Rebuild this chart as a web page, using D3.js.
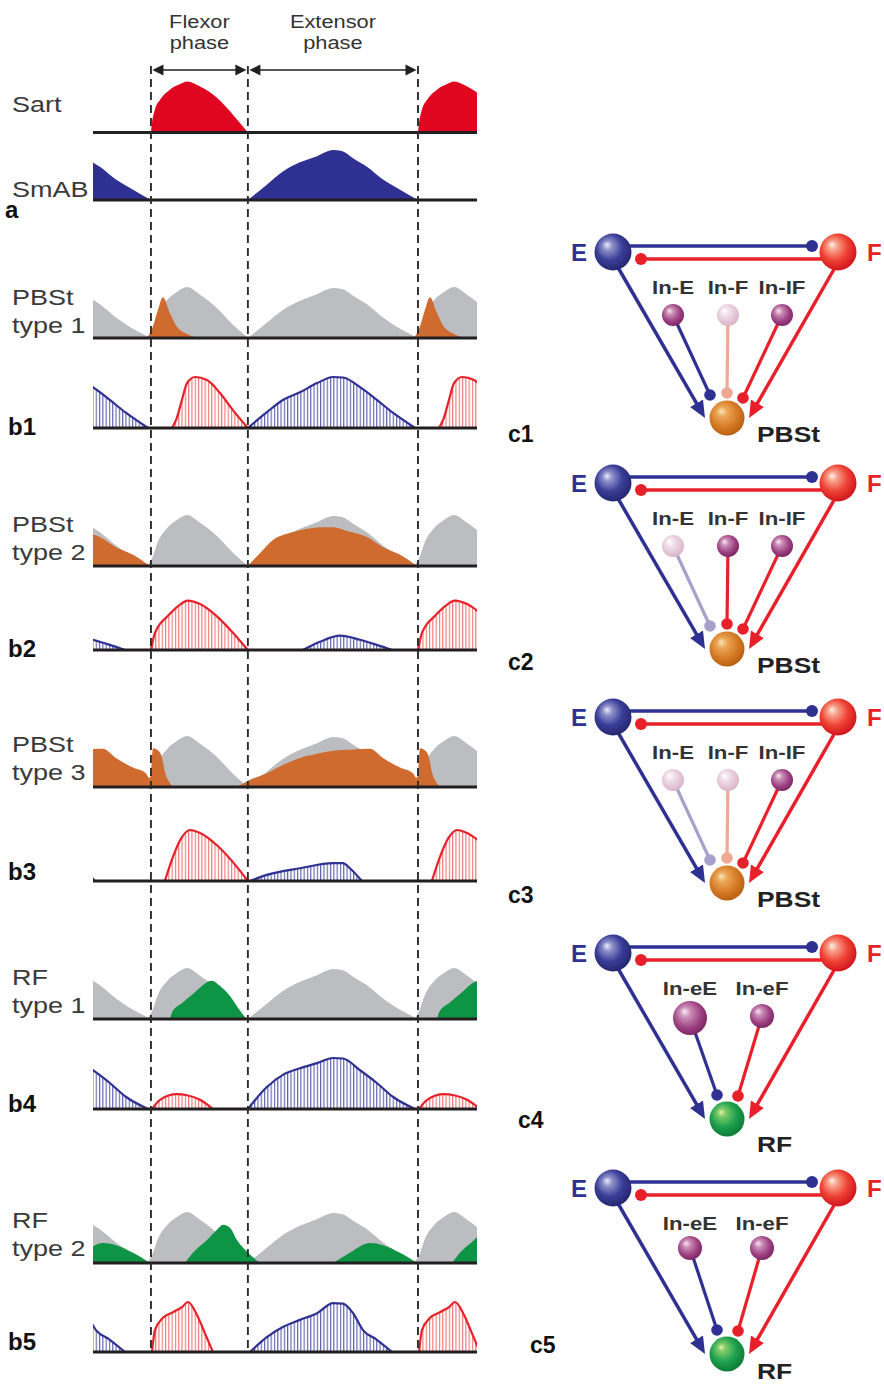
<!DOCTYPE html>
<html>
<head>
<meta charset="utf-8">
<script src="https://cdn.jsdelivr.net/npm/d3@7"></script>
<style>
  body { margin: 0; background: #fff; }
  svg { display: block; font-family: Arial, "Liberation Sans", Helvetica, sans-serif; }
</style>
</head>
<body>
<svg id="chart" width="884" height="1385"></svg>
<script>
// time is in % of the step cycle: 0 = flexor onset, 36.3 = extensor onset, 100 = next flexor onset
var phaseBounds = [0, 36.3, 100];
var phaseNames = [["Flexor", "phase"], ["Extensor", "phase"]];
var timeRange = [-21.7, 122.1];

// bursts over one cycle: [time %, relative amplitude]
var sartBurst = [[0,0],[0.3,0.15],[1.5,0.45],[3.4,0.64],[7.1,0.84],[10.9,0.95],[13.5,1.0],[18.4,0.9],[24.7,0.68],[30.7,0.35],[36.3,0]];
var smabBurst = [[36.3,0],[43.4,0.3],[49.4,0.56],[55.8,0.74],[62.2,0.86],[68.2,0.98],[71.5,0.96],[75.7,0.82],[80.9,0.65],[86.9,0.4],[93.3,0.2],[100,0]];

// grey envelope (flexor + extensor activity)
var envFlex = [[-1.5,0],[0.8,0.2],[2.2,0.42],[6,0.74],[9.7,0.9],[13.5,1.0],[18.4,0.85],[24.7,0.59],[30.7,0.26],[36.3,0]];
var envExt = [[36.3,0],[43.4,0.3],[49.4,0.55],[55.8,0.73],[62.2,0.86],[68.2,0.98],[71.5,0.96],[75.7,0.83],[80.9,0.66],[86.9,0.4],[93.3,0.18],[100,0]];

// PBSt type 1 / b1
var pbst1Burst = [[-1.5,0],[0.7,0.22],[2.6,0.55],[4.5,0.8],[7.1,0.49],[9.7,0.22],[13.5,0.08],[17.2,0]];
var b1Ext = [[36.3,0],[43.4,0.31],[49.4,0.55],[55.8,0.7],[62.2,0.88],[68.2,1.0],[71.9,0.99],[78.3,0.8],[84.6,0.55],[90.6,0.3],[98.9,0]];
var b1Flex = [[7.9,0],[9.7,0.2],[11.6,0.55],[13.5,0.88],[16.5,1.0],[21,0.94],[25.8,0.69],[30.7,0.35],[36.3,0]];

// PBSt type 2 / b2
var pbst2Ext = [[36.3,0],[40.8,0.25],[45.7,0.51],[52.1,0.65],[58.4,0.73],[64.4,0.76],[68.2,0.76],[74.5,0.67],[80.9,0.57],[86.9,0.37],[93.3,0.22],[99.6,0]];
var b2Flex = [[0,0],[0.4,0.1],[1.1,0.27],[2.6,0.45],[6,0.65],[9.7,0.84],[13.9,0.97],[18.4,0.9],[24.7,0.66],[30.7,0.34],[36.3,0]];
var b2Ext = [[56.9,0],[63.3,0.16],[70.8,0.28],[78.3,0.2],[84.6,0.1],[90.3,0]];

// PBSt type 3 / b3
var pbst3Spike = [[0,0.22],[0.8,0.76],[2.6,0.72],[4.1,0.58],[5.2,0.3],[7.1,0.08],[8.2,0]];
var pbst3Ext = [[32.2,0],[37.1,0.14],[43.4,0.27],[49.4,0.43],[55.8,0.57],[62.2,0.65],[68.2,0.71],[74.5,0.73],[82,0.75],[86.9,0.57],[93.3,0.38],[98.1,0.27],[99.4,0.18],[100,0.22]];
var b3Flex = [[5.2,0],[8.2,0.47],[11.6,0.86],[14.6,1.0],[18.4,0.94],[24.7,0.7],[30.7,0.37],[36.3,0]];
var b3Ext = [[37.1,0],[43.4,0.12],[55.8,0.25],[68.2,0.35],[71.9,0.35],[74.5,0.25],[79,0]];

// RF type 1 / b4
var rf1Flex = [[7.1,0],[8.2,0.16],[11.6,0.31],[15.7,0.49],[22.8,0.75],[25.8,0.65],[29.6,0.45],[32.6,0.22],[35.6,0]];
var b4Ext = [[36.3,0],[43.4,0.43],[49.4,0.67],[55.8,0.8],[62.2,0.9],[68.2,1.0],[71.9,0.99],[78.3,0.76],[84.6,0.51],[90.6,0.24],[98.9,0]];
var b4Flex = [[0.4,0],[3.4,0.18],[9.7,0.29],[13.5,0.27],[18.4,0.18],[23.2,0]];

// RF type 2 / b5
var rf2Flex = [[12.7,0],[15.7,0.2],[21,0.45],[24.7,0.65],[27,0.75],[29.6,0.69],[32.2,0.45],[36,0.22],[40.8,0]];
var rf2Ext = [[68.2,0],[74.5,0.2],[82,0.39],[86.9,0.35],[93.3,0.2],[99.6,0]];
var b5Flex = [[0.4,0],[1.5,0.43],[4.5,0.67],[8.2,0.78],[11.6,0.88],[13.9,0.98],[17.2,0.73],[20.2,0.37],[23.2,0]];
var b5Ext = [[37.1,0],[43.4,0.29],[49.4,0.49],[55.8,0.63],[62.2,0.76],[68.2,0.96],[71.9,0.95],[75.7,0.76],[79.4,0.43],[84.6,0.24],[90.3,0]];

// circuit diagrams
var circuitIds = ["c1", "c2", "c3", "c4", "c5"];
var circuitTargets = ["PBSt", "PBSt", "PBSt", "RF", "RF"];
var interneuronLabels = [["In-E","In-F","In-IF"],["In-E","In-F","In-IF"],["In-E","In-F","In-IF"],["In-eE","In-eF"],["In-eE","In-eF"]];
var interneuronSide = [["E","F","F"],["E","F","F"],["E","F","F"],["E","F"],["E","F"]];
var interneuronActive = [[1,0,1],[0,1,1],[0,0,1],[1,1],[1,1]];

var svg = d3.select("#chart");
var defs = svg.append("defs");

var x = d3.scaleLinear().domain(timeRange).range([93, 477]);
var AMP = 51;
var NAVY = "#2e3192", RED = "#e8202a", GREY = "#bcbdc0", ORANGE = "#d06b30", GREEN = "#0e9445";

//Clip to trace area
defs.append("clipPath").attr("id", "plotClip")
  .append("rect")
  .attr("x", x(timeRange[0])).attr("y", 0)
  .attr("width", x(timeRange[1]) - x(timeRange[0])).attr("height", 1385);

//Vertical hatching patterns
function hatch(id, color) {
  var p = defs.append("pattern").attr("id", id)
    .attr("patternUnits", "userSpaceOnUse").attr("width", 3.3).attr("height", 20);
  p.append("line").attr("x1", 0.6).attr("x2", 0.6).attr("y1", 0).attr("y2", 20)
    .attr("stroke", color).attr("stroke-width", 1);
}
hatch("hatchRed", "#ee6464");
hatch("hatchBlue", "#4a4da4");

//Rows of traces
var rows = [
  { base: 132.5, layers: [{ data: sartBurst, fill: "#e0061f" }] },
  { base: 200, layers: [{ data: smabBurst, fill: NAVY }] },
  { base: 338, layers: [{ data: envFlex, fill: GREY }, { data: envExt, fill: GREY }, { data: pbst1Burst, fill: ORANGE }] },
  { base: 428, layers: [{ data: b1Ext, hatch: "hatchBlue", stroke: NAVY }, { data: b1Flex, hatch: "hatchRed", stroke: RED }] },
  { base: 566, layers: [{ data: envFlex, fill: GREY }, { data: envExt, fill: GREY }, { data: pbst2Ext, fill: ORANGE }] },
  { base: 650, layers: [{ data: b2Ext, hatch: "hatchBlue", stroke: NAVY }, { data: b2Flex, hatch: "hatchRed", stroke: RED }] },
  { base: 787, layers: [{ data: envFlex, fill: GREY }, { data: envExt, fill: GREY }, { data: pbst3Ext, fill: ORANGE }, { data: pbst3Spike, fill: ORANGE }] },
  { base: 881, layers: [{ data: b3Ext, hatch: "hatchBlue", stroke: NAVY }, { data: b3Flex, hatch: "hatchRed", stroke: RED }] },
  { base: 1019, layers: [{ data: envFlex, fill: GREY }, { data: envExt, fill: GREY }, { data: rf1Flex, fill: GREEN }] },
  { base: 1109, layers: [{ data: b4Ext, hatch: "hatchBlue", stroke: NAVY }, { data: b4Flex, hatch: "hatchRed", stroke: RED }] },
  { base: 1263, layers: [{ data: envFlex, fill: GREY }, { data: envExt, fill: GREY }, { data: rf2Flex, fill: GREEN }, { data: rf2Ext, fill: GREEN }] },
  { base: 1352, layers: [{ data: b5Ext, hatch: "hatchBlue", stroke: NAVY }, { data: b5Flex, hatch: "hatchRed", stroke: RED }] }
];

rows.forEach(function(row) {
  var y = d3.scaleLinear().domain([0, 1]).range([row.base, row.base - AMP]);
  var area = d3.area().curve(d3.curveMonotoneX)
    .x(function(d) { return x(d[0]); }).y0(y(0)).y1(function(d) { return y(d[1]); });
  var line = d3.line().curve(d3.curveMonotoneX)
    .x(function(d) { return x(d[0]); }).y(function(d) { return y(d[1]); });
  var g = svg.append("g").attr("clip-path", "url(#plotClip)");

  row.layers.forEach(function(layer) {
    //repeat each burst for previous / current / next cycle
    [-100, 0, 100].forEach(function(off) {
      var pts = layer.data.map(function(p) { return [p[0] + off, p[1]]; });
      if (pts[pts.length - 1][0] < timeRange[0] || pts[0][0] > timeRange[1]) return;
      g.append("path").attr("d", area(pts))
        .attr("fill", layer.hatch ? "url(#" + layer.hatch + ")" : layer.fill);
      if (layer.stroke) {
        g.append("path").attr("d", line(pts)).attr("fill", "none")
          .attr("stroke", layer.stroke).attr("stroke-width", 2.2).attr("stroke-linejoin", "round");
      }
    });
  });

  svg.append("line")
    .attr("x1", x(timeRange[0])).attr("x2", x(timeRange[1]))
    .attr("y1", row.base).attr("y2", row.base)
    .attr("stroke", "#231f20").attr("stroke-width", 3.2);
});

//Dashed phase boundaries
svg.selectAll(".phaseLine").data(phaseBounds).enter().append("line")
  .attr("class", "phaseLine")
  .attr("x1", function(d) { return x(d); }).attr("x2", function(d) { return x(d); })
  .attr("y1", 66).attr("y2", 1352)
  .attr("stroke", "#2b2b2b").attr("stroke-width", 1.9).attr("stroke-dasharray", "8,5");

//Phase arrows
function arrowHead(px, py, dir) {
  svg.append("path")
    .attr("d", "M" + px + "," + py + " l" + (-11 * dir) + ",-5.5 l0,11 Z")
    .attr("fill", "#231f20");
}
phaseNames.forEach(function(name, i) {
  var x0 = x(phaseBounds[i]) + 1.5, x1 = x(phaseBounds[i + 1]) - 1.5;
  svg.append("line").attr("x1", x0 + 6).attr("x2", x1 - 6).attr("y1", 70).attr("y2", 70)
    .attr("stroke", "#231f20").attr("stroke-width", 1.6);
  arrowHead(x0, 70, -1);
  arrowHead(x1, 70, 1);
  var cx = (x(phaseBounds[i]) + x(phaseBounds[i + 1])) / 2;
  name.forEach(function(word, k) {
    svg.append("text")
      .attr("transform", "translate(" + cx + "," + (28 + k * 21) + ") scale(1.18,1)")
      .attr("text-anchor", "middle").attr("font-size", 18.5).attr("fill", "#333")
      .text(word);
  });
});

//Row labels
var rowLabels = [
  { lines: ["Sart"], y: 112 }, { lines: ["SmAB"], y: 197 },
  { lines: ["PBSt", "type 1"], y: 305 }, { lines: ["PBSt", "type 2"], y: 532 },
  { lines: ["PBSt", "type 3"], y: 752 }, { lines: ["RF", "type 1"], y: 985 },
  { lines: ["RF", "type 2"], y: 1228 }
];
rowLabels.forEach(function(l) {
  l.lines.forEach(function(word, k) {
    svg.append("text")
      .attr("transform", "translate(12," + (l.y + k * 28) + ") scale(1.2,1)")
      .attr("font-size", 22.5).attr("fill", "#3a3a3a").text(word);
  });
});
var panelLabels = [["a", 5, 218], ["b1", 8, 435], ["b2", 8, 657], ["b3", 8, 880], ["b4", 8, 1112], ["b5", 8, 1350]];
panelLabels.forEach(function(p) {
  svg.append("text").attr("x", p[1]).attr("y", p[2])
    .attr("font-size", 24).attr("font-weight", "bold").attr("fill", "#111").text(p[0]);
});

//Sphere gradients
function sphereGrad(id, stops) {
  var g = defs.append("radialGradient").attr("id", id)
    .attr("cx", "45%").attr("cy", "42%").attr("r", "60%").attr("fx", "33%").attr("fy", "30%");
  stops.forEach(function(s) {
    g.append("stop").attr("offset", s[0]).attr("stop-color", s[1]);
  });
}
sphereGrad("gradE", [["0%", "#eeeef8"], ["22%", "#8c8fc8"], ["60%", "#3a3d98"], ["100%", "#23266c"]]);
sphereGrad("gradF", [["0%", "#fff2ea"], ["22%", "#f8a08a"], ["60%", "#ee4234"], ["100%", "#cf121c"]]);
sphereGrad("gradIn", [["0%", "#f8eaf2"], ["28%", "#c88ab4"], ["70%", "#9c3f80"], ["100%", "#7a2462"]]);
sphereGrad("gradInFaded", [["0%", "#ffffff"], ["35%", "#f1dee9"], ["100%", "#d8b2c7"]]);
sphereGrad("gradPBSt", [["0%", "#fbe4b4"], ["25%", "#eba658"], ["65%", "#d67b26"], ["100%", "#b65d12"]]);
sphereGrad("gradRF", [["0%", "#f2f2a8"], ["18%", "#80cc6c"], ["60%", "#1ea04e"], ["100%", "#0b7a36"]]);

//Arrow markers
function marker(id, color) {
  defs.append("marker").attr("id", id)
    .attr("markerUnits", "userSpaceOnUse").attr("orient", "auto")
    .attr("viewBox", "0 -8 17 16").attr("markerWidth", 17).attr("markerHeight", 16)
    .attr("refX", 8).attr("refY", 0)
    .append("path").attr("d", "M0,-7.5L17,0L0,7.5Z").attr("fill", color);
}
marker("arrowBlue", NAVY);
marker("arrowRed", RED);

//Circuit layout (E neuron centre y, label offsets)
var circuitTop = [252, 483, 717, 953, 1188];
var circuitLabelPos = [[508, 190], [508, 187], [508, 186], [518, 175], [530, 165]];
var targetLabelDy = [190, 190, 190, 199, 191];
var inX3 = [673, 728, 782], inX2 = [690, 762];
var dotOff3 = [[-17, -23], [0, -25], [16, -20]], dotOff2 = [[-10, -24], [11, -23]];
var inR = [[11, 11, 11], [11, 11, 11], [11, 11, 11], [17, 12], [12, 12]];
var inDy = [[63, 63, 63], [63, 63, 63], [63, 63, 63], [65, 63], [60, 60]];

function arrowLine(g, x0, y0, tipX, tipY, color, id) {
  var dx = tipX - x0, dy = tipY - y0, len = Math.sqrt(dx * dx + dy * dy);
  g.append("line").attr("x1", x0).attr("y1", y0)
    .attr("x2", tipX - 9 * dx / len).attr("y2", tipY - 9 * dy / len)
    .attr("stroke", color).attr("stroke-width", 3.5)
    .attr("marker-end", "url(#" + id + ")");
}

circuitIds.forEach(function(cid, i) {
  var g = svg.append("g").attr("transform", "translate(0," + circuitTop[i] + ")");
  var tx = 727, ty = 166;

  //reciprocal inhibition between E and F
  g.append("line").attr("x1", 628).attr("x2", 812).attr("y1", -6).attr("y2", -6)
    .attr("stroke", NAVY).attr("stroke-width", 3.5);
  g.append("circle").attr("cx", 812).attr("cy", -6).attr("r", 6).attr("fill", NAVY);
  g.append("line").attr("x1", 823).attr("x2", 641).attr("y1", 7).attr("y2", 7)
    .attr("stroke", RED).attr("stroke-width", 3.5);
  g.append("circle").attr("cx", 641).attr("cy", 7).attr("r", 6).attr("fill", RED);

  //direct excitation to motoneuron
  arrowLine(g, 616, 12, 705, 166, NAVY, "arrowBlue");
  arrowLine(g, 837, 12, 749, 166, RED, "arrowRed");

  //interneurons
  var labs = interneuronLabels[i];
  var xs = labs.length === 3 ? inX3 : inX2;
  var offs = labs.length === 3 ? dotOff3 : dotOff2;
  labs.forEach(function(lab, j) {
    var active = interneuronActive[i][j];
    var isE = interneuronSide[i][j] === "E";
    var col = active ? (isE ? NAVY : RED) : (isE ? "#a7a1ca" : "#f0a892");
    var dxp = tx + offs[j][0], dyp = ty + offs[j][1];
    g.append("line").attr("x1", xs[j]).attr("y1", inDy[i][j]).attr("x2", dxp).attr("y2", dyp)
      .attr("stroke", col).attr("stroke-width", 3.2);
    g.append("circle").attr("cx", dxp).attr("cy", dyp).attr("r", 5.8).attr("fill", col);
    g.append("circle").attr("cx", xs[j]).attr("cy", inDy[i][j]).attr("r", inR[i][j])
      .attr("fill", active ? "url(#gradIn)" : "url(#gradInFaded)");
    g.append("text")
      .attr("transform", "translate(" + xs[j] + ",42) scale(1.2,1)")
      .attr("text-anchor", "middle").attr("font-size", 18.5).attr("font-weight", "bold")
      .attr("fill", "#333").text(lab);
  });

  //E and F half-centres
  g.append("circle").attr("cx", 613).attr("cy", 0).attr("r", 18.5).attr("fill", "url(#gradE)");
  g.append("circle").attr("cx", 838).attr("cy", 0).attr("r", 18.5).attr("fill", "url(#gradF)");
  g.append("text").attr("x", 571).attr("y", 9).attr("font-size", 24).attr("font-weight", "bold")
    .attr("fill", NAVY).text("E");
  g.append("text").attr("x", 867).attr("y", 9).attr("font-size", 24).attr("font-weight", "bold")
    .attr("fill", RED).text("F");

  //motoneuron
  g.append("circle").attr("cx", tx).attr("cy", ty).attr("r", 17.5)
    .attr("fill", circuitTargets[i] === "RF" ? "url(#gradRF)" : "url(#gradPBSt)");
  g.append("text")
    .attr("transform", "translate(757," + targetLabelDy[i] + ") scale(1.2,1)")
    .attr("font-size", 22).attr("font-weight", "bold").attr("fill", "#222")
    .text(circuitTargets[i]);

  g.append("text").attr("x", circuitLabelPos[i][0]).attr("y", circuitLabelPos[i][1])
    .attr("font-size", 23).attr("font-weight", "bold").attr("fill", "#111").text(cid);
});
</script>
</body>
</html>
